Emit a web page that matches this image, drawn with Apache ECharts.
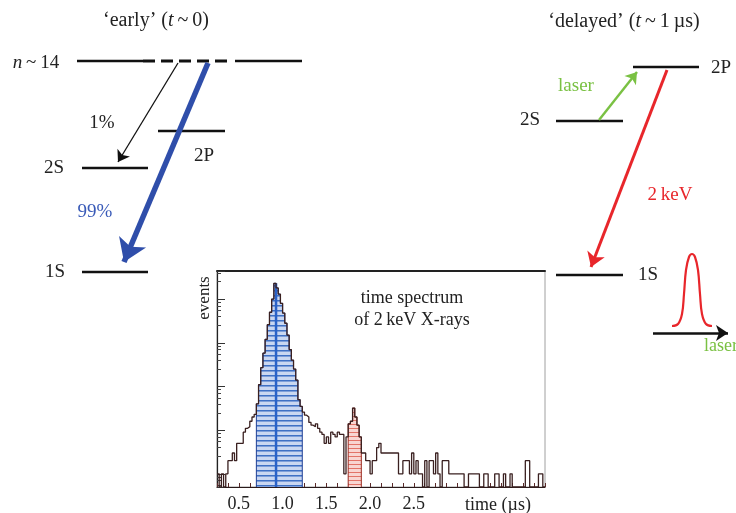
<!DOCTYPE html>
<html><head><meta charset="utf-8">
<script src="https://cdn.jsdelivr.net/npm/echarts@6/dist/echarts.min.js"></script>
<style>html,body{margin:0;padding:0;background:#fff}#c{width:736px;height:513px}</style>
</head><body><div id="c"></div>
<script>
// ================= DATA =================
// histogram of 2 keV X-ray arrival times
const timeTickLabels = ['0.5', '1.0', '1.5', '2.0', '2.5'];
const binStart = 0.25;      // µs
const binWidth = 0.025;     // µs
const counts = [
  1,0,1,0,1,2,2,3,2,5,5,5,9,11,12,16,20,23,
  40,110,270,580,1200,2600,5000,10000,23000,18000,13000,8000,4800,2800,1500,700,400,250,140,50,35,
  26,22,20,15,13,12,14,11,9,8,5,7,5,9,8,7,9,8,8,1,7,
  14,16,32,20,13,7,
  3,3,2,2,1,2,2,4,5,
  3,3,3,3,3,3,3,3,
  1,1,2,2,2,1,3,1,2,1,1,0,2,
  0,2,2,1,3,1,0,2,2,2,1,1,1,1,1,1,1,
  0,0,1,1,1,1,1,0,0,1,1,0,0,0,1,1,0,0,1,0,0,1,0,
  0,0,0,0,0,2,2,0,0,0,0,1,1,0
];
const blueBins = [18, 38];   // 'early' window
const redBins = [60, 65];    // 'delayed' window
const peakCentre = 0.925;    // µs

// level scheme (diagram units)
const earlySolidLevels = [[77, 143, 61], [235, 302, 61], [158, 225, 131], [82, 148, 168], [82, 148, 272]];
const earlyDashedLevels = [[143, 231, 61]];
const delayedLevels = [[633, 699, 67], [556, 623, 121], [556, 623, 275]];
const cascadeOnePercent = [[178, 63], [118, 162]];
const cascadeNinetyNine = [[208, 63], [124, 262]];
const laserTransition = [[599, 120], [637, 72]];
const xrayTransition = [[667, 70], [591, 267]];
const laserPulse = [[672, 326], [678, 324], [682, 314], [684, 294], [686, 270], [689, 257], [692, 254], [695, 257], [698, 270], [700, 294], [702, 314], [706, 324], [712, 326]];
const laserTimeAxis = [[653, 333], [728, 333]];

// ================= CHART =================
const SERIF = 'Liberation Serif';
const yMin = 0.5, yMax = 44000;
const tMin = 0.25, tMax = 4.0;
const lv = c => (c > 0 ? c : yMin);

function stripePattern(bg, rows) {
  const c = document.createElement('canvas');
  c.width = 4; c.height = rows.length;
  const g = c.getContext('2d');
  rows.forEach((col, k) => { g.fillStyle = col || bg; g.fillRect(0, k, 4, 1); });
  return { image: c, repeat: 'repeat' };
}

const outline = counts.map((c, i) => [binStart + i * binWidth, lv(c)]);
outline.push([binStart + counts.length * binWidth, lv(counts[counts.length - 1])]);

function windowData(r) {
  const d = [[binStart + r[0] * binWidth, yMin]];
  for (let i = r[0]; i <= r[1]; i++) d.push([binStart + i * binWidth, lv(counts[i])]);
  d.push([binStart + (r[1] + 1) * binWidth, lv(counts[r[1]])]);
  d.push([binStart + (r[1] + 1) * binWidth, yMin]);
  return d;
}

function levelData(levels) {
  const d = [];
  levels.forEach((l, k) => { if (k) d.push('-'); d.push([l[0], l[2]], [l[1], l[2]]); });
  return d;
}

function txt(x, y, text, size, color, extra) {
  return Object.assign({
    type: 'text', x: x, y: y, z: 100,
    style: {
      text: text, fontSize: size, fontFamily: SERIF, fill: color || '#222',
      align: 'center', verticalAlign: 'middle', textAlign: 'center', textVerticalAlign: 'middle',
      rich: { i: { fontStyle: 'italic', fontSize: size, fontFamily: SERIF, fill: color || '#222' } }
    }
  }, extra || {});
}

function arrow(coords, color, width, size) {
  return { type: 'lines', coordinateSystem: 'cartesian2d', xAxisIndex: 0, yAxisIndex: 0, silent: true, z: 4,
    symbol: ['none', 'arrow'], symbolSize: size,
    lineStyle: { color: color, width: width, opacity: 1, curveness: 0 },
    data: [{ coords: coords }] };
}

const chart = echarts.init(document.getElementById('c'), null, { renderer: 'canvas' });

const option = {
  animation: false,
  backgroundColor: '#fff',
  grid: [
    { left: 0, top: 0, width: 736, height: 513, show: false },
    { left: 217, top: 271, width: 328, height: 217, show: true, borderColor: '#a0a0a0', borderWidth: 1, backgroundColor: 'transparent' }
  ],
  xAxis: [
    { gridIndex: 0, type: 'value', min: 0, max: 736, show: false },
    { gridIndex: 1, type: 'value', min: tMin, max: tMax, interval: 0.125,
      axisLine: { show: true, onZero: false, lineStyle: { color: '#2a1a1a', width: 1.2 } },
      axisTick: { show: true, inside: true, length: 4, lineStyle: { color: '#5a2a2a' } },
      splitLine: { show: false },
      axisLabel: { show: true, margin: 8, fontFamily: SERIF, fontSize: 18, color: '#222',
        showMinLabel: true, showMaxLabel: true,
        formatter: v => { const s = (Math.round(v * 1000) / 1000).toFixed(1); return (timeTickLabels.includes(s) && Math.abs(Number(s) - v) < 1e-6) ? s : ''; } } },
    { gridIndex: 1, type: 'value', min: tMin, max: tMax, position: 'top',
      axisLine: { show: true, onZero: false, lineStyle: { color: '#222', width: 2 } },
      axisTick: { show: false }, axisLabel: { show: false }, splitLine: { show: false } }
  ],
  yAxis: [
    { gridIndex: 0, type: 'value', min: 0, max: 513, inverse: true, show: false },
    { gridIndex: 1, type: 'log', logBase: 10, min: yMin, max: yMax,
      axisLine: { show: true, onZero: false, lineStyle: { color: '#222', width: 1.2 } },
      axisTick: { show: true, inside: true, length: 8, lineStyle: { color: '#333' } },
      minorTick: { show: true, splitNumber: 6, length: 4, lineStyle: { color: '#444' } },
      axisLabel: { show: false }, splitLine: { show: false } }
  ],
  graphic: [
    txt(156, 21, '‘early’ ({i|t}\u2009~\u20090)', 20),
    txt(624, 22, '‘delayed’ ({i|t}\u2009~\u20091\u2009µs)', 20),
    txt(36, 63, '{i|n}\u2009~\u200914', 19),
    txt(102, 123, '1%', 19),
    txt(204, 156, '2P', 19),
    txt(54, 168, '2S', 19),
    txt(95, 212, '99%', 19, '#3a5bb8'),
    txt(55, 272, '1S', 19),
    txt(576, 86, 'laser', 19, '#7ac143'),
    txt(721, 68, '2P', 19),
    txt(530, 120, '2S', 19),
    txt(670, 195, '2\u2009keV', 19, '#e8262b'),
    txt(648, 275, '1S', 19),
    txt(721, 346, 'laser', 18, '#7ac143'),
    txt(412, 298, 'time spectrum', 18),
    txt(412, 320, 'of 2\u2009keV X-rays', 18),
    txt(498, 505, 'time (µs)', 18),
    txt(205, 298, 'events', 17, '#222', { rotation: Math.PI / 2 })
  ],
  series: [
    // ---- level scheme ----
    { type: 'line', xAxisIndex: 0, yAxisIndex: 0, data: levelData(earlySolidLevels), symbol: 'none', connectNulls: false,
      lineStyle: { color: '#111', width: 2.6 }, silent: true, z: 2 },
    { type: 'line', xAxisIndex: 0, yAxisIndex: 0, data: levelData(earlyDashedLevels), symbol: 'none',
      lineStyle: { color: '#111', width: 3, type: [12, 6] }, silent: true, z: 2 },
    { type: 'line', xAxisIndex: 0, yAxisIndex: 0, data: levelData(delayedLevels), symbol: 'none', connectNulls: false,
      lineStyle: { color: '#111', width: 2.6 }, silent: true, z: 2 },
    { type: 'line', xAxisIndex: 0, yAxisIndex: 0, data: laserPulse, symbol: 'none', smooth: 0.4,
      lineStyle: { color: '#e8262b', width: 2.2 }, silent: true, z: 3 },
    arrow(cascadeOnePercent, '#111', 1.3, [8, 11]),
    arrow(cascadeNinetyNine, '#2f4eaa', 5.5, [17, 22]),
    arrow(laserTransition, '#7ac143', 2.4, [9, 11]),
    arrow(xrayTransition, '#e8262b', 3, [11, 14]),
    arrow(laserTimeAxis, '#111', 2.6, [10, 12]),
    // ---- histogram ----
    { type: 'line', xAxisIndex: 1, yAxisIndex: 1, data: windowData(blueBins), step: 'end', symbol: 'none',
      lineStyle: { color: '#1f3f95', width: 1 },
      areaStyle: { origin: 'start', opacity: 1, color: stripePattern('#cad7f1', ['#3f70c4', '#7f9fd9', null, null, null]) },
      silent: true, z: 5 },
    { type: 'line', xAxisIndex: 1, yAxisIndex: 1, data: [[peakCentre, yMin], [peakCentre, Math.max(...counts)]], symbol: 'none',
      lineStyle: { color: '#2a62c8', width: 2.5 }, silent: true, z: 5 },
    { type: 'line', xAxisIndex: 1, yAxisIndex: 1, data: windowData(redBins), step: 'end', symbol: 'none',
      lineStyle: { color: '#9a2b22', width: 1 },
      areaStyle: { origin: 'start', opacity: 1, color: stripePattern('#f8d6d2', ['#e27468', null, null, null]) },
      silent: true, z: 5 },
    { type: 'line', xAxisIndex: 1, yAxisIndex: 1, data: outline, step: 'end', symbol: 'none',
      lineStyle: { color: '#3a2020', width: 1.3 }, silent: true, z: 6 }
  ]
};
chart.setOption(option);
</script>
</body></html>
